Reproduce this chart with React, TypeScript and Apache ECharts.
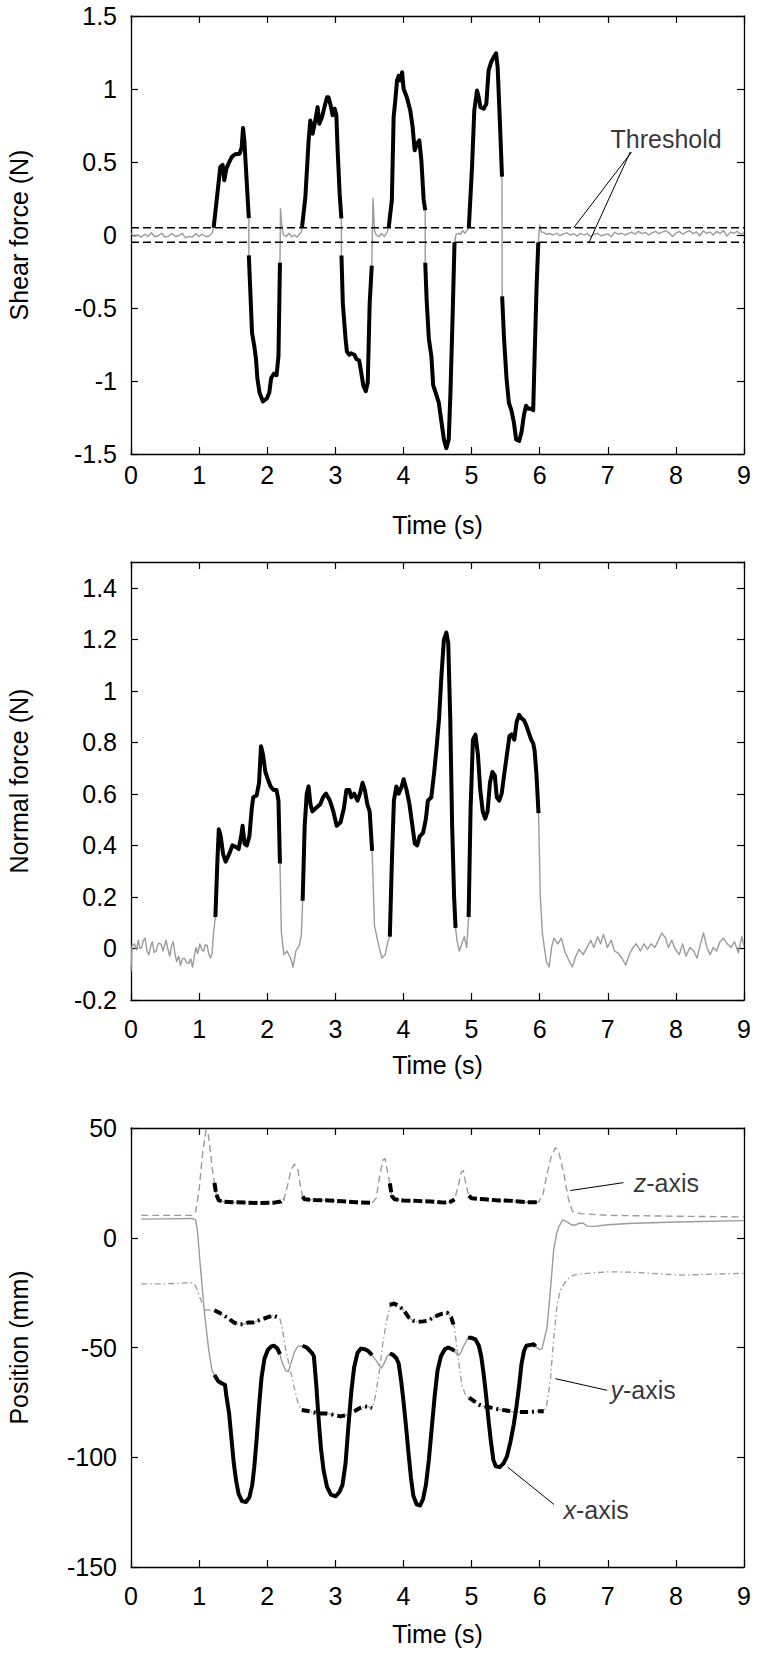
import React, { useEffect, useRef } from "react";
import * as echarts from "echarts";

type P = [number, number];

const FONT = "'Liberation Sans', Arial, Helvetica, sans-serif";
const GRAY = "#9b9b9b";
const BLACK = "#000000";

// ---------- axes ----------
const timeTicks = [0, 1, 2, 3, 4, 5, 6, 7, 8, 9];
const shearTicks = [-1.5, -1, -0.5, 0, 0.5, 1, 1.5];
const normalTicks = [-0.2, 0, 0.2, 0.4, 0.6, 0.8, 1, 1.2, 1.4];
const normalMax = 1.5;
const positionTicks = [-150, -100, -50, 0, 50];
const thresholdLevels = [0.05, -0.05];

// ---------- shear force (N) ----------
const shearBase0: P[] = [[0,0.01],[0.05,-0.01],[0.1,0.0],[0.15,-0.015],[0.2,0.005],[0.25,-0.01],[0.3,0.015],[0.35,-0.012],[0.4,-0.005],[0.45,0.012],[0.5,-0.015],[0.55,-0.008],[0.6,0.01],[0.65,-0.01],[0.7,-0.005],[0.75,0.012],[0.8,-0.02],[0.85,-0.01],[0.9,-0.015],[0.95,0.008],[1.0,-0.01],[1.05,0.005],[1.1,-0.012],[1.15,-0.005],[1.19,0.01],[1.213,0.05]];
const shearPos1: P[] = [[1.213,0.05],[1.263,0.26],[1.311,0.466],[1.345,0.48],[1.37,0.375],[1.4,0.455],[1.433,0.49],[1.48,0.535],[1.53,0.553],[1.595,0.557],[1.625,0.6],[1.645,0.733],[1.664,0.648],[1.703,0.33],[1.73,0.115]];
const shearNeg1: P[] = [[1.73,-0.14],[1.777,-0.67],[1.81,-0.76],[1.835,-0.85],[1.855,-0.98],[1.887,-1.08],[1.937,-1.14],[1.994,-1.12],[2.03,-1.08],[2.058,-0.98],[2.1,-0.95],[2.137,-0.96],[2.165,-0.83],[2.187,-0.19]];
const shearGap1: P[] = [[2.187,-0.19],[2.195,0.18],[2.215,0.06],[2.235,0.005],[2.28,-0.01],[2.32,0.012],[2.36,-0.012],[2.4,0.0],[2.44,-0.015],[2.48,0.01],[2.5,0.02],[2.51,0.05]];
const shearPos2: P[] = [[2.51,0.05],[2.56,0.26],[2.608,0.648],[2.633,0.785],[2.667,0.694],[2.706,0.785],[2.74,0.876],[2.765,0.762],[2.805,0.808],[2.84,0.876],[2.878,0.944],[2.9,0.944],[2.937,0.876],[2.96,0.82],[2.99,0.865],[3.015,0.82],[3.034,0.58],[3.063,0.285],[3.088,0.114]];
const shearNeg2: P[] = [[3.09,-0.14],[3.11,-0.47],[3.15,-0.71],[3.17,-0.8],[3.205,-0.82],[3.23,-0.81],[3.28,-0.82],[3.31,-0.85],[3.35,-0.86],[3.376,-0.93],[3.41,-1.03],[3.447,-1.07],[3.476,-1.01],[3.504,-0.47],[3.535,-0.21]];
const shearGap2: P[] = [[3.535,-0.21],[3.553,0.25],[3.575,0.03],[3.6,0.0],[3.64,-0.012],[3.68,0.01],[3.72,-0.01],[3.76,0.02],[3.783,0.05]];
const shearPos3: P[] = [[3.783,0.05],[3.83,0.24],[3.856,0.808],[3.88,0.92],[3.906,1.058],[3.93,1.09],[3.955,1.058],[3.98,1.115],[4.003,1.0],[4.05,0.944],[4.1,0.853],[4.135,0.74],[4.165,0.58],[4.2,0.626],[4.233,0.648],[4.263,0.512],[4.297,0.24],[4.32,0.17]];
const shearNeg3: P[] = [[4.32,-0.19],[4.34,-0.44],[4.373,-0.71],[4.41,-0.83],[4.437,-1.03],[4.473,-1.08],[4.52,-1.15],[4.558,-1.28],[4.594,-1.4],[4.63,-1.46],[4.665,-1.4],[4.69,-1.08],[4.72,-0.59],[4.75,-0.05]];
const shearGap3: P[] = [[4.75,-0.05],[4.77,0.0],[4.8,0.012],[4.84,0.005],[4.87,0.03],[4.9,0.012],[4.93,0.03],[4.96,0.05]];
const shearPos4: P[] = [[4.96,0.05],[5.007,0.466],[5.04,0.853],[5.08,0.99],[5.105,0.944],[5.13,0.876],[5.18,0.865],[5.217,0.899],[5.25,1.126],[5.286,1.183],[5.325,1.217],[5.36,1.245],[5.383,1.149],[5.413,0.808],[5.447,0.4]];
const shearNeg4: P[] = [[5.449,-0.42],[5.477,-0.71],[5.513,-0.98],[5.548,-1.15],[5.584,-1.2],[5.62,-1.28],[5.655,-1.4],[5.7,-1.41],[5.734,-1.35],[5.77,-1.23],[5.8,-1.17],[5.833,-1.19],[5.876,-1.19],[5.905,-1.2],[5.926,-0.83],[5.955,-0.35],[5.98,-0.05]];
const shearBase4: P[] = [[5.98,-0.05],[6.0,0.068],[6.025,0.02],[6.05,0.02],[6.1,0.005],[6.15,0.01],[6.2,0.0],[6.25,0.012],[6.3,-0.005],[6.35,0.008],[6.4,0.015],[6.45,0.0],[6.5,0.01],[6.55,-0.008],[6.6,0.012],[6.65,0.0],[6.7,0.01],[6.75,-0.01],[6.8,0.005],[6.85,0.012],[6.9,-0.005],[6.95,0.0],[7.0,0.008],[7.05,-0.012],[7.1,0.02],[7.15,0.005],[7.2,0.012],[7.25,0.0],[7.3,0.01],[7.35,0.02],[7.4,0.005],[7.45,0.025],[7.5,0.01],[7.55,0.018],[7.6,0.0],[7.65,0.015],[7.7,0.025],[7.75,0.01],[7.8,0.02],[7.85,0.03],[7.9,0.015],[7.95,-0.01],[8.0,0.012],[8.05,0.025],[8.1,0.005],[8.15,0.02],[8.2,0.03],[8.25,0.01],[8.3,0.022],[8.35,-0.005],[8.4,0.028],[8.45,0.012],[8.5,0.02],[8.55,0.0],[8.6,0.025],[8.65,0.01],[8.7,0.03],[8.75,-0.008],[8.8,0.02],[8.85,0.012],[8.9,0.025],[8.95,0.005],[9.0,0.015]];

const shearContact = [shearPos1, shearNeg1, shearPos2, shearNeg2, shearPos3, shearNeg3, shearPos4, shearNeg4];
const shearAll = [shearBase0, shearPos1, shearNeg1, shearGap1, shearPos2, shearNeg2, shearGap2, shearPos3, shearNeg3, shearGap3, shearPos4, shearNeg4, shearBase4];

const thresholdLabel = { text: "Threshold", at: [7.04, 0.655] as P };
const thresholdLeaders: P[][] = [[[7.35, 0.569], [6.5, 0.05]], [[7.33, 0.569], [6.725, -0.05]]];

// ---------- normal force (N) ----------
const normalBase0: P[] = [[0,-0.09],[0.015,0.01],[0.05,0.018],[0.08,-0.005],[0.107,0.032],[0.13,0.0],[0.157,0.004],[0.18,0.03],[0.207,0.04],[0.235,-0.01],[0.264,-0.024],[0.29,0.01],[0.313,0.026],[0.34,-0.015],[0.37,-0.01],[0.4,0.02],[0.44,0.018],[0.47,-0.01],[0.513,0.032],[0.54,0.0],[0.57,-0.03],[0.595,0.01],[0.62,0.026],[0.645,-0.02],[0.67,-0.051],[0.7,-0.03],[0.726,-0.065],[0.755,-0.04],[0.783,-0.037],[0.815,-0.055],[0.848,-0.058],[0.875,-0.04],[0.905,-0.072],[0.93,-0.03],[0.954,0.004],[0.98,-0.02],[1.011,0.018],[1.04,-0.005],[1.068,-0.01],[1.09,0.015],[1.118,0.011],[1.14,-0.02],[1.168,-0.037],[1.19,-0.02],[1.211,0.06],[1.239,0.122]];
const normalSeg1: P[] = [[1.239,0.122],[1.268,0.337],[1.289,0.4625],[1.318,0.435],[1.353,0.365],[1.389,0.337],[1.439,0.365],[1.489,0.4],[1.546,0.393],[1.58,0.386],[1.617,0.435],[1.638,0.476],[1.667,0.407],[1.7,0.4],[1.738,0.435],[1.774,0.546],[1.795,0.587],[1.845,0.594],[1.88,0.643],[1.909,0.785],[1.937,0.754],[1.973,0.685],[2.009,0.657],[2.05,0.629],[2.094,0.615],[2.137,0.615],[2.165,0.574],[2.187,0.33]];
const normalGap1: P[] = [[2.187,0.33],[2.208,0.06],[2.244,-0.024],[2.29,-0.01],[2.343,-0.037],[2.38,-0.072],[2.42,-0.01],[2.47,0.011],[2.5,0.05],[2.52,0.185]];
const normalSeg2: P[] = [[2.52,0.185],[2.55,0.476],[2.58,0.601],[2.607,0.629],[2.635,0.56],[2.664,0.532],[2.72,0.546],[2.778,0.56],[2.82,0.587],[2.863,0.601],[2.92,0.574],[2.97,0.532],[3.02,0.476],[3.077,0.49],[3.127,0.546],[3.162,0.615],[3.205,0.615],[3.234,0.587],[3.276,0.601],[3.326,0.574],[3.362,0.601],[3.4,0.643],[3.433,0.615],[3.469,0.56],[3.504,0.532],[3.54,0.379]];
const normalGap2: P[] = [[3.54,0.379],[3.575,0.0875],[3.632,0.018],[3.682,-0.037],[3.732,-0.024],[3.775,0.032],[3.8,0.046]];
const normalSeg3: P[] = [[3.8,0.046],[3.83,0.337],[3.86,0.574],[3.896,0.629],[3.93,0.601],[3.974,0.629],[4.003,0.657],[4.046,0.615],[4.088,0.56],[4.131,0.476],[4.167,0.407],[4.202,0.4],[4.238,0.435],[4.288,0.449],[4.33,0.504],[4.359,0.574],[4.409,0.587],[4.452,0.685],[4.487,0.782],[4.523,0.893],[4.558,1.06],[4.594,1.199],[4.63,1.226],[4.658,1.185],[4.687,0.893],[4.715,0.476],[4.744,0.199],[4.765,0.08]];
const normalGap3: P[] = [[4.765,0.08],[4.786,0.032],[4.82,-0.01],[4.857,0.018],[4.893,0.046],[4.929,0.004],[4.957,0.122]];
const normalSeg4: P[] = [[4.957,0.122],[4.986,0.546],[5.02,0.81],[5.057,0.83],[5.093,0.754],[5.128,0.615],[5.164,0.532],[5.2,0.504],[5.235,0.532],[5.27,0.643],[5.306,0.685],[5.342,0.671],[5.37,0.587],[5.406,0.574],[5.442,0.601],[5.484,0.685],[5.52,0.754],[5.556,0.824],[5.59,0.831],[5.627,0.81],[5.662,0.879],[5.698,0.907],[5.734,0.893],[5.77,0.886],[5.805,0.865],[5.84,0.8375],[5.876,0.81],[5.905,0.796],[5.926,0.768],[5.954,0.671],[5.983,0.525]];
const normalBase4: P[] = [[5.983,0.525],[6.01,0.199],[6.04,0.06],[6.068,0.004],[6.1,-0.051],[6.14,-0.072],[6.175,0.004],[6.21,0.04],[6.268,0.018],[6.318,0.04],[6.367,-0.01],[6.424,-0.044],[6.48,-0.072],[6.53,-0.03],[6.58,-0.003],[6.638,-0.024],[6.695,0.004],[6.75,0.032],[6.795,0.004],[6.85,0.046],[6.895,0.018],[6.937,0.0555],[6.994,0.004],[7.05,0.032],[7.1,-0.01],[7.15,-0.017],[7.208,-0.037],[7.265,-0.065],[7.315,-0.024],[7.372,0.004],[7.42,0.018],[7.48,-0.01],[7.53,0.018],[7.585,-0.003],[7.635,0.018],[7.692,0.004],[7.742,0.032],[7.792,0.06],[7.85,0.04],[7.89,0.004],[7.94,0.032],[7.99,-0.003],[8.05,-0.024],[8.098,0.018],[8.148,-0.03],[8.205,0.004],[8.262,-0.01],[8.31,-0.037],[8.362,0.018],[8.405,0.06],[8.455,0.004],[8.504,-0.024],[8.547,0.004],[8.597,-0.01],[8.647,0.026],[8.7,0.04],[8.753,0.018],[8.81,0.004],[8.86,0.026],[8.917,-0.017],[8.967,0.046],[8.996,0.011]];

const normalContact = [normalSeg1, normalSeg2, normalSeg3, normalSeg4];
const normalAll = [normalBase0, normalSeg1, normalGap1, normalSeg2, normalGap2, normalSeg3, normalGap3, normalSeg4, normalBase4];

// ---------- position (mm): x-axis ----------
const posXBase0: P[] = [[0.15,8.5],[0.5,8.6],[0.9,8.8],[0.95,8],[0.976,3],[1.01,-10],[1.08,-34.6],[1.14,-50.8],[1.19,-60.6],[1.225,-62.5]];
const posXSeg1: P[] = [[1.225,-62.5],[1.282,-65.4],[1.33,-66.3],[1.38,-67],[1.4,-72],[1.44,-80],[1.475,-91.5],[1.51,-103],[1.545,-111],[1.58,-116.7],[1.63,-120],[1.688,-120.4],[1.738,-118.3],[1.78,-112.6],[1.81,-104.5],[1.845,-91.5],[1.88,-76.8],[1.916,-63.8],[1.96,-55],[2.01,-51],[2.06,-49.5],[2.1,-49.2],[2.15,-50.5],[2.187,-53]];
const posXGap1: P[] = [[2.187,-53],[2.22,-57],[2.27,-60.5],[2.31,-61],[2.35,-57],[2.4,-52],[2.45,-49.5],[2.52,-49.2]];
const posXSeg2: P[] = [[2.52,-49.2],[2.58,-50],[2.63,-51.6],[2.664,-52.8],[2.685,-54],[2.72,-67],[2.756,-83.3],[2.79,-96.3],[2.828,-106],[2.877,-113.4],[2.934,-117],[3.006,-117.8],[3.06,-115.8],[3.105,-112.6],[3.15,-102.8],[3.19,-86.6],[3.234,-70.3],[3.276,-59],[3.326,-52.4],[3.376,-50.5],[3.433,-50.8],[3.483,-51.6],[3.518,-52.8],[3.54,-53.5]];
const posXGap2: P[] = [[3.54,-53.5],[3.6,-56],[3.65,-58.5],[3.68,-59.3],[3.72,-57],[3.76,-54],[3.8,-52.8]];
const posXSeg3: P[] = [[3.8,-52.8],[3.846,-53.3],[3.896,-54.9],[3.93,-57.3],[3.967,-65.4],[4.003,-75.2],[4.04,-86.6],[4.074,-98],[4.11,-109.3],[4.145,-117.5],[4.195,-121.5],[4.245,-122],[4.288,-119],[4.33,-112.6],[4.373,-101.2],[4.416,-86.6],[4.459,-72],[4.5,-60.6],[4.55,-54],[4.608,-50.8],[4.658,-50],[4.715,-50.8],[4.75,-51.6]];
const posXGap3: P[] = [[4.75,-51.6],[4.8,-53.7],[4.835,-52.7],[4.9,-48.4],[4.95,-45.6]];
const posXSeg4: P[] = [[4.95,-45.6],[5.0,-45.6],[5.057,-46.3],[5.107,-49.2],[5.142,-54],[5.178,-62.2],[5.214,-72],[5.25,-83.3],[5.285,-93.1],[5.32,-101.2],[5.356,-104.1],[5.413,-104.5],[5.47,-102.8],[5.52,-99.6],[5.57,-93.1],[5.62,-85],[5.66,-76.8],[5.7,-67],[5.734,-57.3],[5.77,-51.6],[5.805,-49.2],[5.855,-48.9],[5.91,-48.5],[5.94,-49.5]];
const posXBase4: P[] = [[5.94,-49.5],[6.0,-51],[6.035,-50.5],[6.07,-46],[6.11,-40.6],[6.157,-23.9],[6.206,-5.6],[6.25,2],[6.28,5],[6.34,8.1],[6.4,7.2],[6.47,5.8],[6.52,5.8],[6.58,6.6],[6.64,6.6],[6.7,5.3],[6.8,5.2],[7.0,5.9],[7.3,6.5],[8.0,7.2],[9.0,7.8]];

// ---------- position (mm): y-axis ----------
const posYBase0: P[] = [[0.15,-21],[0.5,-21],[0.9,-20.5],[0.95,-22],[0.976,-24],[1.04,-29.7],[1.1,-33],[1.15,-33],[1.225,-33]];
const posYSeg1: P[] = [[1.225,-33],[1.296,-34.2],[1.367,-35.4],[1.44,-37],[1.51,-38.6],[1.58,-39.4],[1.652,-39.4],[1.724,-38.6],[1.795,-38.6],[1.866,-37.8],[1.937,-37],[2.01,-36.2],[2.08,-35.4],[2.15,-36.2],[2.187,-37]];
const posYGap1: P[] = [[2.187,-37],[2.22,-41],[2.27,-50.8],[2.33,-59],[2.365,-63.8],[2.4,-68.7],[2.45,-75.2],[2.507,-78.5]];
const posYSeg2: P[] = [[2.507,-78.5],[2.578,-78.8],[2.65,-79.3],[2.72,-79.8],[2.79,-80.1],[2.863,-80.1],[2.934,-80.4],[3.006,-80.9],[3.077,-81.4],[3.148,-80.9],[3.22,-79.8],[3.29,-78.8],[3.36,-77.6],[3.433,-76.8],[3.504,-77.2],[3.54,-77.6]];
const posYGap2: P[] = [[3.54,-77.6],[3.59,-72],[3.647,-60.6],[3.7,-47.6],[3.753,-37.8],[3.79,-33],[3.8,-30.5]];
const posYSeg3: P[] = [[3.8,-30.5],[3.86,-30],[3.93,-31],[4.003,-33],[4.074,-36.2],[4.145,-37.8],[4.217,-38.3],[4.288,-38.1],[4.359,-37.8],[4.43,-36.5],[4.5,-35.4],[4.573,-34.6],[4.644,-34.2],[4.7,-36.2],[4.75,-41]];
const posYGap3: P[] = [[4.75,-41],[4.8,-54],[4.857,-67],[4.915,-72],[4.964,-72.8]];
const posYSeg4: P[] = [[4.964,-72.8],[5.036,-74.4],[5.107,-76],[5.178,-76.8],[5.25,-77.2],[5.32,-77.6],[5.39,-78.1],[5.463,-78.5],[5.534,-78.8],[5.605,-79.3],[5.677,-79.4],[5.75,-79.4],[5.82,-79.4],[5.89,-79.3],[5.983,-79],[6.06,-79]];
const posYBase4: P[] = [[6.06,-79],[6.1,-77],[6.157,-65],[6.2,-48],[6.25,-32],[6.3,-24],[6.4,-19],[6.5,-17],[6.66,-16.3],[6.994,-15.5],[7.35,-15.7],[7.707,-16.3],[8.063,-17],[8.42,-16.7],[9.0,-16.2]];

// ---------- position (mm): z-axis ----------
const posZBase0: P[] = [[0.15,10.2],[0.5,10.2],[0.9,10.2],[0.95,12],[1.0,22],[1.05,38],[1.1,49],[1.13,48],[1.17,38],[1.2,30],[1.225,25]];
const posZSeg1: P[] = [[1.225,25],[1.25,20],[1.29,17],[1.35,16.5],[1.5,16.2],[1.7,16],[1.9,15.8],[2.1,16],[2.2,16.5],[2.245,17.5]];
const posZGap1: P[] = [[2.245,17.5],[2.3,24],[2.35,31],[2.4,33.5],[2.45,31],[2.49,23],[2.52,18.8]];
const posZSeg2: P[] = [[2.52,18.8],[2.55,17.5],[2.7,17.2],[2.9,17],[3.1,16.6],[3.3,16.2],[3.54,15.9]];
const posZGap2: P[] = [[3.54,15.9],[3.6,18],[3.65,28],[3.7,35.5],[3.73,36],[3.76,31],[3.8,24.8]];
const posZSeg3: P[] = [[3.8,24.8],[3.83,19],[3.87,17.5],[4.0,17],[4.2,16.8],[4.4,16.5],[4.6,16],[4.7,16.5],[4.75,17.5]];
const posZGap3: P[] = [[4.75,17.5],[4.8,23],[4.85,30],[4.88,30.5],[4.92,24],[4.96,19.1]];
const posZSeg4: P[] = [[4.96,19.1],[5.0,18],[5.2,17.5],[5.4,17],[5.6,16.8],[5.8,16.2],[5.985,16.2]];
const posZBase4: P[] = [[5.985,16.2],[6.05,20],[6.1,28],[6.17,37],[6.23,41],[6.28,39],[6.35,30],[6.42,18],[6.48,12],[6.6,11],[7.0,10.2],[8.0,9.8],[9.0,9.5]];

const posXContact = [posXSeg1, posXSeg2, posXSeg3, posXSeg4];
const posXAll = [posXBase0, posXSeg1, posXGap1, posXSeg2, posXGap2, posXSeg3, posXGap3, posXSeg4, posXBase4];
const posYContact = [posYSeg1, posYSeg2, posYSeg3, posYSeg4];
const posYAll = [posYBase0, posYSeg1, posYGap1, posYSeg2, posYGap2, posYSeg3, posYGap3, posYSeg4, posYBase4];
const posZContact = [posZSeg1, posZSeg2, posZSeg3, posZSeg4];
const posZAll = [posZBase0, posZSeg1, posZGap1, posZSeg2, posZGap2, posZSeg3, posZGap3, posZSeg4, posZBase4];

const axisLabels = [
  { letter: "z", at: [7.38, 25] as P, leader: [[6.45, 21.5], [7.23, 25.1]] as P[] },
  { letter: "y", at: [7.04, -69.5] as P, leader: [[6.23, -64.2], [6.99, -69.5]] as P[] },
  { letter: "x", at: [6.35, -124] as P, leader: [[5.53, -104.5], [6.21, -121.5]] as P[] },
];

// ---------- styles ----------
const FS = 25;
const GRIDS = [
  { left: 131, top: 16, width: 613, height: 438 },
  { left: 131, top: 562, width: 613, height: 438 },
  { left: 131, top: 1128, width: 613, height: 439 },
];

const join = (parts: P[][]): P[] => {
  const out: P[] = [];
  parts.forEach((p) => p.forEach((q) => out.push(q)));
  return out;
};

function lineSeries(g: number, data: P[], color: string, width: number, type: any, z: number) {
  return {
    type: "line",
    xAxisIndex: g * 2,
    yAxisIndex: g * 2,
    data,
    symbol: "none",
    showSymbol: false,
    silent: true,
    clip: true,
    z,
    lineStyle: { color, width, type, join: "round", cap: "butt" },
    emphasis: { disabled: true },
  };
}

function textSeries(g: number, at: P, formatter: string, rich?: any) {
  return {
    type: "scatter",
    xAxisIndex: g * 2,
    yAxisIndex: g * 2,
    data: [at],
    symbolSize: 0,
    silent: true,
    z: 10,
    label: {
      show: true,
      position: "right",
      distance: 0,
      formatter,
      color: BLACK,
      fontSize: FS,
      fontFamily: FONT,
      rich,
    },
  };
}

function axesFor(g: number, ticks: number[], max: number | null, yName: string, xMargin: number, xNameGap: number) {
  const min = ticks[0];
  const interval = ticks[1] - ticks[0];
  const yMax = max === null ? ticks[ticks.length - 1] : max;
  const line = { show: true, onZero: false, lineStyle: { color: BLACK, width: 1.3 } };
  const tick = { show: true, inside: true, length: 7, lineStyle: { color: BLACK, width: 1.2 } };
  const lab = { color: BLACK, fontSize: FS, fontFamily: FONT };
  const xBase = { type: "value", gridIndex: g, min: timeTicks[0], max: timeTicks[timeTicks.length - 1], interval: timeTicks[1] - timeTicks[0], axisLine: line, axisTick: tick, splitLine: { show: false } };
  const yBase = { type: "value", gridIndex: g, min, max: yMax, interval, axisLine: line, axisTick: tick, splitLine: { show: false } };
  const x = [
    { ...xBase, position: "bottom", axisLabel: { ...lab, margin: xMargin }, name: "Time (s)", nameLocation: "middle", nameGap: xNameGap, nameTextStyle: lab },
    { ...xBase, position: "top", axisLabel: { show: false } },
  ];
  const y = [
    { ...yBase, position: "left", axisLabel: { ...lab, margin: 14, showMaxLabel: max === null }, name: yName, nameLocation: "middle", nameGap: 100, nameTextStyle: lab },
    { ...yBase, position: "right", axisLabel: { show: false } },
  ];
  return { x, y };
}

export default function App() {
  const ref = useRef<HTMLDivElement>(null);

  useEffect(() => {
    if (!ref.current) return;
    const chart = echarts.init(ref.current, null, { renderer: "svg" });

    const a1 = axesFor(0, shearTicks, null, "Shear force (N)", 8, 58);
    const a2 = axesFor(1, normalTicks, normalMax, "Normal force (N)", 16, 52);
    const a3 = axesFor(2, positionTicks, null, "Position (mm)", 16, 54);

    const series: any[] = [];
    // Shear force
    series.push(lineSeries(0, join(shearAll), GRAY, 1.4, "solid", 2));
    shearContact.forEach((s) => series.push(lineSeries(0, s, BLACK, 4, "solid", 4)));
    thresholdLevels.forEach((v) =>
      series.push(lineSeries(0, [[timeTicks[0], v], [timeTicks[timeTicks.length - 1], v]], BLACK, 1.5, [8, 4], 5))
    );
    thresholdLeaders.forEach((l) => series.push(lineSeries(0, l, BLACK, 1, "solid", 5)));
    series.push(textSeries(0, thresholdLabel.at, thresholdLabel.text));

    // Normal force
    series.push(lineSeries(1, join(normalAll), GRAY, 1.4, "solid", 2));
    normalContact.forEach((s) => series.push(lineSeries(1, s, BLACK, 4, "solid", 4)));

    // Position
    series.push(lineSeries(2, join(posXAll), GRAY, 1.4, "solid", 2));
    series.push(lineSeries(2, join(posYAll), GRAY, 1.3, [6, 3, 1.5, 3], 2));
    series.push(lineSeries(2, join(posZAll), GRAY, 1.4, [7, 4], 2));
    posXContact.forEach((s) => series.push(lineSeries(2, s, BLACK, 4, "solid", 4)));
    posYContact.forEach((s) => series.push(lineSeries(2, s, BLACK, 4, [8, 4, 2, 4], 4)));
    posZContact.forEach((s) => series.push(lineSeries(2, s, BLACK, 4, [9, 3], 4)));
    axisLabels.forEach((l) => {
      series.push(lineSeries(2, l.leader, BLACK, 1, "solid", 5));
      series.push(
        textSeries(2, l.at, `{i|${l.letter}}-axis`, {
          i: { fontStyle: "italic", fontSize: FS, fontFamily: FONT, color: BLACK },
        })
      );
    });

    chart.setOption({
      animation: false,
      backgroundColor: "#ffffff",
      textStyle: { fontFamily: FONT },
      grid: GRIDS.map((g) => ({ ...g, containLabel: false, outerBoundsMode: "none" })),
      xAxis: [...a1.x, ...a2.x, ...a3.x],
      yAxis: [...a1.y, ...a2.y, ...a3.y],
      series,
    });

    return () => chart.dispose();
  }, []);

  return (
    <div
      ref={ref}
      style={{ position: "absolute", left: 0, top: 0, width: 762, height: 1657, background: "#fff" }}
    />
  );
}
